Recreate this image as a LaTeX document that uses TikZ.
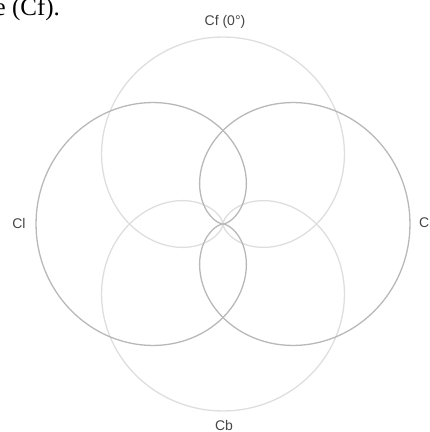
\documentclass[tikz,border=0pt]{standalone}
\usepackage{fontspec}
\setmainfont{Liberation Sans}
\newfontfamily\serifcap{Liberation Serif}
\definecolor{darkline}{HTML}{B8B8B8}
\definecolor{lightline}{HTML}{DEDEDE}
\definecolor{labelgray}{HTML}{454545}
\begin{document}
\begin{tikzpicture}[x=1pt,y=1pt,
  lobe/.style={line width=1.3pt,line join=round},
  lbl/.style={text=labelgray,font=\fontsize{14}{16}\selectfont,inner sep=0pt}]
\useasboundingbox (0,0) rectangle (430,432);
\coordinate (O) at (223,208);
\def\R{187}
% front (up) and back (down): light
\draw[lobe,lightline] plot[domain=0:360,samples=121,smooth,variable=\t]
  ({223+\R/2*(1+cos(\t))*cos(\t+90)},{208+\R/2*(1+cos(\t))*sin(\t+90)});
\draw[lobe,lightline] plot[domain=0:360,samples=121,smooth,variable=\t]
  ({223+\R/2*(1+cos(\t))*cos(\t-90)},{208+\R/2*(1+cos(\t))*sin(\t-90)});
% left and right: darker
\draw[lobe,darkline] plot[domain=0:360,samples=121,smooth,variable=\t]
  ({223+\R/2*(1+cos(\t))*cos(\t+180)},{208+\R/2*(1+cos(\t))*sin(\t+180)});
\draw[lobe,darkline] plot[domain=0:360,samples=121,smooth,variable=\t]
  ({223+\R/2*(1+cos(\t))*cos(\t)},{208+\R/2*(1+cos(\t))*sin(\t)});
% labels
\node[lbl] (cf) at (225,410) {Cf (0°)};
\node[lbl] (cl) at (19,209) {Cl};
\node[lbl,anchor=west] (cr) at (419,209) {C};
\node[lbl] (cb) at (224,7) {Cb};
\node[anchor=base west,inner sep=0pt,font=\serifcap\fontsize{25}{28}\selectfont] (cap) at (-5.5,416) {e (Cf).};
\end{tikzpicture}
\end{document}
